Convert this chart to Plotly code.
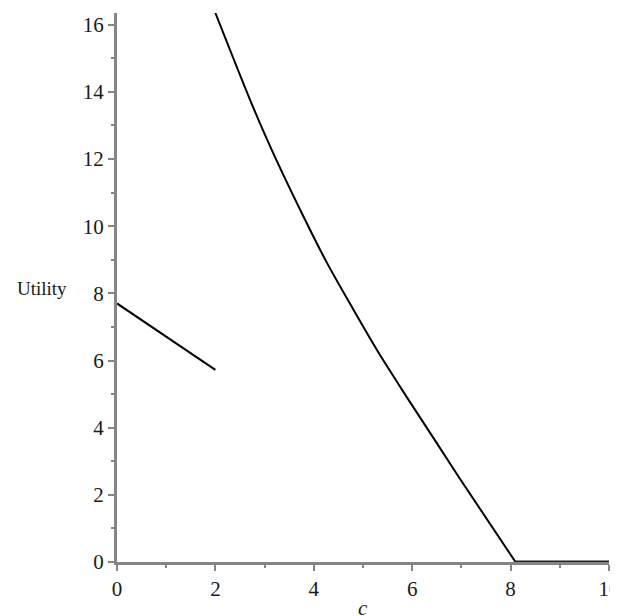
import plotly.graph_objects as go

# Left segment (lower branch)
seg_c = [0, 2]
seg_u = [7.70, 5.72]

# Main curve, points
curve_c = [2.0, 2.70, 3.14, 3.79, 4.26, 4.74, 5.28, 5.89, 6.50, 6.97, 8.1, 10.0]
curve_u = [16.35, 13.78, 12.29, 10.29, 8.93, 7.68, 6.32, 4.91, 3.54, 2.48, 0.0, 0.0]

x_ticks = [0, 2, 4, 6, 8, 10]
y_ticks = [0, 2, 4, 6, 8, 10, 12, 14, 16]

FONT = "Liberation Serif"
AXIS_COL = "#858585"
TXT_COL = "#1a1a1a"

fig = go.Figure()
fig.add_trace(go.Scatter(x=seg_c, y=seg_u, mode="lines",
                         line=dict(color="black", width=2), showlegend=False))
# smooth decreasing part, then flat part on the axis
fig.add_trace(go.Scatter(x=curve_c[:-1], y=curve_u[:-1], mode="lines",
                         line=dict(color="black", width=2, shape="spline", smoothing=0.8),
                         showlegend=False))
fig.add_trace(go.Scatter(x=curve_c[-2:], y=curve_u[-2:], mode="lines",
                         line=dict(color="#222222", width=3), showlegend=False))

axis_common = dict(
    showgrid=False, zeroline=False, showline=True, linecolor=AXIS_COL, linewidth=3,
    ticks="outside", ticklen=6, tickwidth=2, tickcolor=AXIS_COL, automargin=False,
    tickfont=dict(family=FONT, size=21, color=TXT_COL),
    minor=dict(ticks="outside", ticklen=3, tickwidth=1.5, tickcolor=AXIS_COL, dtick=1, showgrid=False),
)

fig.update_xaxes(range=[0, 10], tickvals=x_ticks, ticklabeloverflow="allow", **axis_common)
fig.update_yaxes(range=[0, 16.35], tickvals=y_ticks, **axis_common)

fig.add_annotation(text="Utility", xref="paper", yref="paper", x=-0.152, y=0.499,
                   xanchor="center", yanchor="middle", showarrow=False,
                   font=dict(family=FONT, size=19, color=TXT_COL))
fig.add_annotation(text="<i>c</i>", xref="paper", yref="paper", x=0.5, y=-0.0583,
                   xanchor="center", yanchor="top", showarrow=False,
                   font=dict(family=FONT, size=21, color=TXT_COL))

fig.update_layout(
    width=610, height=608,
    margin=dict(l=109, r=9, t=5, b=54),
    plot_bgcolor="white", paper_bgcolor="white",
)

fig.write_html("out.html")
